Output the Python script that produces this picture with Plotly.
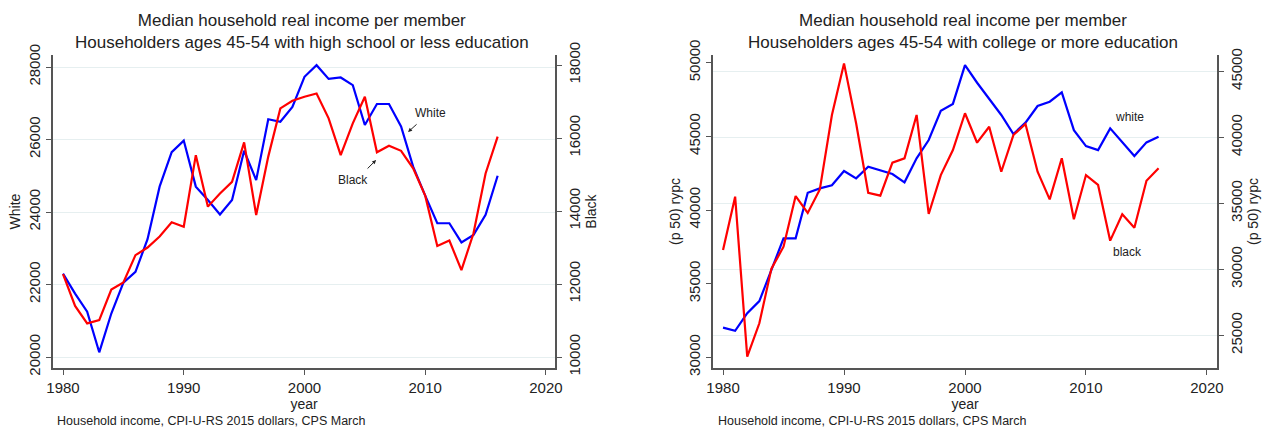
"""
    Median household real income per member, householders aged 45-54,
    white vs black, by education group (two panels, dual y axes).
"""
import plotly.graph_objects as go

years = list(range(1980, 2017))

# Left panel: high school or less (white on left axis, black on right axis)
hs_white = [22300, 21750, 21250, 20130, 21200, 22050, 22350, 23250, 24700, 25650,
            25970, 24700, 24330, 23930, 24330, 25690, 24880, 26560, 26490, 26900,
            27730, 28050, 27670, 27710, 27500, 26400, 26980, 26980, 26360, 25250,
            24450, 23690, 23690, 23160, 23370, 23920, 25000]
hs_black = [12270, 11400, 10920, 11010, 11850, 12040, 12790, 13000, 13300, 13690,
            13570, 15530, 14120, 14480, 14800, 15880, 13890, 15490, 16810, 17020,
            17130, 17220, 16540, 15530, 16400, 17130, 15610, 15790, 15650, 15170,
            14420, 13040, 13190, 12380, 13390, 15030, 16040]

# Right panel: college or more
col_white = [32010, 31800, 32990, 33820, 35930, 38080, 38080, 41170, 41470, 41680,
             42650, 42150, 42940, 42670, 42440, 41880, 43510, 44750, 46740, 47200,
             49840, 48640, 47580, 46450, 45160, 45930, 47060, 47350, 47990, 45420,
             44340, 44070, 45540, 44570, 43660, 44590, 44980]
col_black = [31460, 35500, 23380, 25910, 30050, 31710, 35550, 34270, 36050, 41690,
             45600, 41060, 35800, 35580, 38080, 38410, 41690, 34190, 37140, 39040,
             41820, 39590, 40800, 37390, 40170, 41010, 37390, 35300, 38410, 33790,
             37140, 36390, 32170, 34170, 33150, 36710, 37650]

x_ticks = [1980, 1990, 2000, 2010, 2020]
hs_white_ticks = [20000, 22000, 24000, 26000, 28000]
hs_black_ticks = [10000, 12000, 14000, 16000, 18000]
col_white_ticks = [30000, 35000, 40000, 45000, 50000]
col_black_ticks = [25000, 30000, 35000, 40000, 45000]

W, H = 1266, 431
FONT = "Liberation Sans, Arial, sans-serif"
AXIS_COLOR = "#555555"
GRID_COLOR = "#e6eff0"
TXT = "#222222"


def px_x(p):
    return p / W


def px_y(p):
    return 1 - p / H


fig = go.Figure()

fig.add_trace(go.Scatter(x=years, y=hs_white, xaxis="x", yaxis="y", mode="lines",
                         line=dict(color="#0000ff", width=2.2), name="White"))
fig.add_trace(go.Scatter(x=years, y=hs_black, xaxis="x", yaxis="y2", mode="lines",
                         line=dict(color="#ff0000", width=2.2), name="Black"))
fig.add_trace(go.Scatter(x=years, y=col_white, xaxis="x2", yaxis="y3", mode="lines",
                         line=dict(color="#0000ff", width=2.2), name="white"))
fig.add_trace(go.Scatter(x=years, y=col_black, xaxis="x2", yaxis="y4", mode="lines",
                         line=dict(color="#ff0000", width=2.2), name="black"))

common_axis = dict(
    showline=True,
    linecolor=AXIS_COLOR,
    linewidth=2,
    ticks="outside",
    ticklen=5,
    tickwidth=1,
    tickcolor=AXIS_COLOR,
    tickfont=dict(family=FONT, size=15, color=TXT),
    tickformat="d",
    zeroline=False,
    automargin=False,
)

y_domain = [px_y(368), px_y(55)]

fig.update_layout(
    width=W,
    height=H,
    margin=dict(l=0, r=0, t=0, b=0),
    paper_bgcolor="white",
    plot_bgcolor="white",
    showlegend=False,
    font=dict(family=FONT, color=TXT),
    xaxis=dict(common_axis, domain=[px_x(53), px_x(555)], range=[1979.17, 2020.75],
               tickvals=x_ticks, showgrid=False, anchor="y",
               title=dict(text="year", font=dict(size=14), standoff=0)),
    yaxis=dict(common_axis, domain=y_domain, range=[19697, 28331], tickvals=hs_white_ticks,
               tickangle=-90, showgrid=True, gridcolor=GRID_COLOR, gridwidth=1, anchor="x",
               title=dict(text="White", font=dict(size=14), standoff=2)),
    yaxis2=dict(common_axis, range=[9699, 18274], tickvals=hs_black_ticks, tickangle=-90,
                showgrid=False, overlaying="y", side="right", anchor="x",
                title=dict(text="Black", font=dict(size=14), standoff=0)),
    xaxis2=dict(common_axis, domain=[px_x(713), px_x(1217)], range=[1979.17, 2020.83],
                tickvals=x_ticks, showgrid=False, anchor="y3",
                title=dict(text="year", font=dict(size=14), standoff=0)),
    yaxis3=dict(common_axis, domain=y_domain, range=[29273, 50523], tickvals=col_white_ticks,
                tickangle=-90, showgrid=False, anchor="x2",
                title=dict(text="(p 50) rypc", font=dict(size=14), standoff=2)),
    yaxis4=dict(common_axis, range=[22522, 46235], tickvals=col_black_ticks, tickangle=-90,
                showgrid=True, gridcolor=GRID_COLOR, gridwidth=1,
                overlaying="y3", side="right", anchor="x2",
                title=dict(text="(p 50) rypc", font=dict(size=14), standoff=0)),
)

# Titles
titles = [
    (302, "Median household real income per member<br>"
          "Householders ages 45-54 with high school or less education"),
    (963, "Median household real income per member<br>"
          "Householders ages 45-54 with college or more education"),
]
for cx, txt in titles:
    fig.add_annotation(text=txt, xref="paper", yref="paper", x=px_x(cx), y=px_y(9),
                       xanchor="center", yanchor="top", showarrow=False,
                       font=dict(family=FONT, size=17, color=TXT))

# Source notes
for lx in (55, 716):
    fig.add_annotation(text="Household income, CPI-U-RS 2015 dollars, CPS March",
                       xref="paper", yref="paper", x=px_x(lx), y=px_y(421),
                       xanchor="left", yanchor="middle", showarrow=False,
                       font=dict(family=FONT, size=12.5, color=TXT))

# Left panel labels with arrows
fig.add_annotation(text="White", xref="x", yref="y", x=2010.4, y=26731,
                   showarrow=False, font=dict(family=FONT, size=12, color=TXT))
fig.add_annotation(text="", xref="x", yref="y", x=2008.58, y=26207,
                   axref="x", ayref="y", ax=2009.41, ay=26455,
                   showarrow=True, arrowhead=2, arrowsize=0.8, arrowwidth=1, arrowcolor=TXT)
fig.add_annotation(text="Black", xref="x", yref="y", x=2004.03, y=24882,
                   showarrow=False, font=dict(family=FONT, size=12, color=TXT))
fig.add_annotation(text="", xref="x", yref="y", x=2005.93, y=25434,
                   axref="x", ayref="y", ax=2005.1, ay=25158,
                   showarrow=True, arrowhead=2, arrowsize=0.8, arrowwidth=1, arrowcolor=TXT)

# Right panel labels
fig.add_annotation(text="white", xref="x2", yref="y3", x=2013.58, y=46314,
                   showarrow=False, font=dict(family=FONT, size=12, color=TXT))
fig.add_annotation(text="black", xref="x2", yref="y3", x=2013.41, y=37149,
                   showarrow=False, font=dict(family=FONT, size=12, color=TXT))

# the page body has a default 8px margin; remove it so the figure fills the window
fig.write_html(
    "out.html",
    config={"displayModeBar": False},
    post_script="document.body.style.margin='0';document.body.style.overflow='hidden';",
)
